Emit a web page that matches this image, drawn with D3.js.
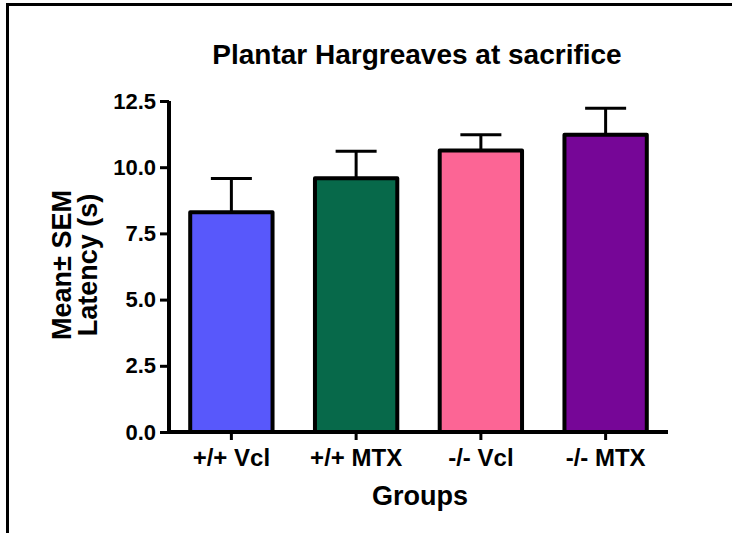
<!DOCTYPE html>
<html>
<head>
<meta charset="utf-8">
<script src="https://cdn.jsdelivr.net/npm/d3@7"></script>
<style>
  html, body { margin: 0; padding: 0; background: #fff; }
  svg { display: block; font-family: "Liberation Sans", Arial, sans-serif; }
</style>
</head>
<body>
<svg id="chart" width="732" height="533"></svg>
<script>
// Plantar Hargreaves latency per group (mean ± SEM)
const groups = ["+/+ Vcl", "+/+ MTX", "-/- Vcl", "-/- MTX"];
const means = [8.3, 9.58, 10.63, 11.23];
const sems = [1.27, 1.02, 0.6, 1.0];
const colors = ["#5858fb", "#07694a", "#fc6595", "#760697"];
const yTicks = [0, 2.5, 5, 7.5, 10, 12.5];

const svg = d3.select("#chart");

// page frame
svg.append("line").attr("x1", 6).attr("x2", 732).attr("y1", 4.5).attr("y2", 4.5)
  .attr("stroke", "#000").attr("stroke-width", 3);
svg.append("line").attr("x1", 7.5).attr("x2", 7.5).attr("y1", 3).attr("y2", 533)
  .attr("stroke", "#000").attr("stroke-width", 3);

const plotLeft = 169, plotRight = 668, plotTop = 101, plotBottom = 432;

const x = d3.scaleBand().domain(groups).range([plotLeft, plotRight]).paddingInner(0.34).paddingOuter(0.17);
const y = d3.scaleLinear().domain([0, 12.5]).range([plotBottom, plotTop]);

// title
svg.append("text").attr("x", 417).attr("y", 64).attr("text-anchor", "middle")
  .attr("font-size", 28).attr("font-weight", "bold").text("Plantar Hargreaves at sacrifice");

// bars with upward SEM whiskers
const g = svg.append("g");
groups.forEach((grp, i) => {
  const cx = x(grp) + x.bandwidth() / 2;
  const yErr = y(means[i] + sems[i]);
  g.append("line").attr("x1", cx).attr("x2", cx).attr("y1", y(means[i])).attr("y2", yErr)
    .attr("stroke", "#000").attr("stroke-width", 3);
  g.append("line").attr("x1", cx - 20.5).attr("x2", cx + 20.5).attr("y1", yErr).attr("y2", yErr)
    .attr("stroke", "#000").attr("stroke-width", 3);
  g.append("rect").attr("x", x(grp)).attr("y", y(means[i]))
    .attr("width", x.bandwidth()).attr("height", y(0) - y(means[i]))
    .attr("fill", colors[i]).attr("stroke", "#000").attr("stroke-width", 4)
    .attr("stroke-linejoin", "round");
});

// y axis
const yAxis = svg.append("g").attr("transform", `translate(${plotLeft},0)`)
  .call(d3.axisLeft(y).tickValues(yTicks).tickFormat(d3.format(".1f")).tickSize(9).tickPadding(4));
yAxis.select(".domain").attr("stroke-width", 4).attr("d", `M0,${plotTop}V${plotBottom + 2}`);
yAxis.selectAll(".tick line").attr("stroke-width", 3);
yAxis.selectAll(".tick text").attr("font-size", 22).attr("font-weight", "bold")
  .attr("font-family", "Liberation Sans, Arial, sans-serif").attr("fill", "#000");

// x axis
const xAxis = svg.append("g").attr("transform", `translate(0,${plotBottom})`)
  .call(d3.axisBottom(x).tickSize(8).tickPadding(9));
xAxis.select(".domain").attr("stroke-width", 4).attr("d", `M${plotLeft - 2},0H${plotRight}`);
xAxis.selectAll(".tick line").attr("stroke-width", 3);
xAxis.selectAll(".tick text").attr("font-size", 24).attr("font-weight", "bold")
  .attr("font-family", "Liberation Sans, Arial, sans-serif").attr("fill", "#000");

// axis titles
svg.append("text").attr("x", 420).attr("y", 505).attr("text-anchor", "middle")
  .attr("font-size", 27).attr("font-weight", "bold").text("Groups");
const yt = svg.append("text").attr("transform", "translate(0,265) rotate(-90)")
  .attr("text-anchor", "middle").attr("font-size", 27).attr("font-weight", "bold");
yt.append("tspan").attr("x", 0).attr("y", 71).text("Mean\u00b1 SEM");
yt.append("tspan").attr("x", 0).attr("y", 97).text("Latency (s)");
</script>
</body>
</html>
